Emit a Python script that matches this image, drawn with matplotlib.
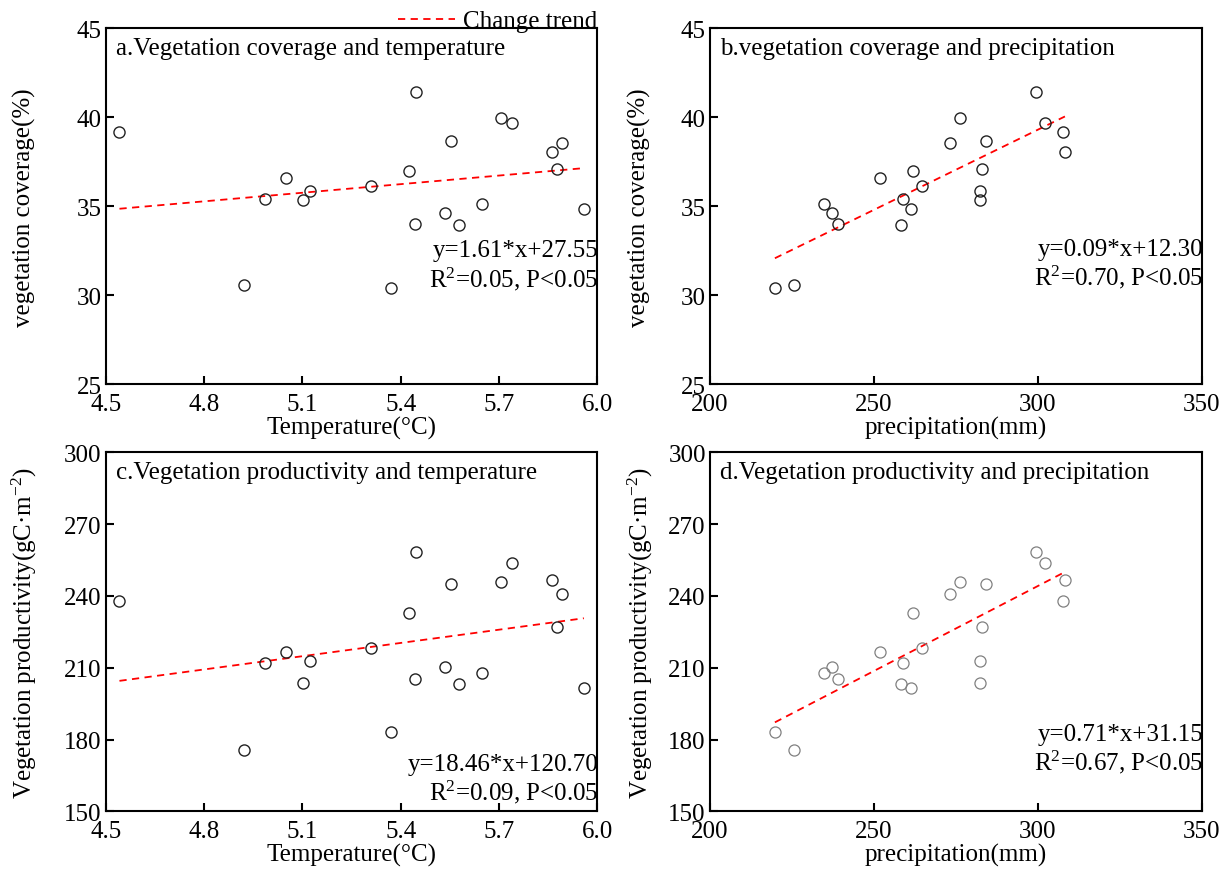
import matplotlib
matplotlib.use("Agg")
import matplotlib.pyplot as plt
import numpy as np
from matplotlib.lines import Line2D

plt.rcParams['font.family'] = ['Liberation Serif', 'DejaVu Serif']
plt.rcParams['mathtext.fontset'] = 'custom'
plt.rcParams['mathtext.rm'] = 'Liberation Serif'
plt.rcParams['mathtext.it'] = 'Liberation Serif:italic'

# ---- data (one entry per year) ----
temperature = [4.542, 5.049, 4.987, 5.124, 5.101, 4.921, 5.309, 5.447, 5.707, 5.741, 5.555,
               5.892, 5.863, 5.425, 5.876, 5.648, 5.536, 5.445, 5.579, 5.959, 5.371]
precipitation = [307.6, 251.9, 259.0, 282.4, 282.4, 225.7, 264.6, 299.5, 276.3, 302.1, 284.1,
                 273.1, 308.3, 261.9, 283.0, 234.9, 237.3, 239.1, 258.4, 261.4, 219.8]
coverage = [39.17, 36.57, 35.43, 35.84, 35.35, 30.56, 36.12, 41.44, 39.98, 39.66, 38.65,
            38.56, 38.07, 36.98, 37.12, 35.11, 34.63, 33.99, 33.95, 34.83, 30.43]
productivity = [238.0, 216.6, 211.9, 213.0, 203.8, 175.8, 218.1, 258.5, 246.0, 253.9, 245.0,
                241.0, 246.7, 232.8, 226.9, 207.7, 210.2, 205.3, 203.4, 201.7, 183.3]

slopes = [1.61, 0.09, 18.46, 0.71]
intercepts = [27.55, 12.30, 120.70, 31.15]
r2_values = ["0.05", "0.70", "0.09", "0.67"]

titles = ["a.Vegetation coverage and temperature",
          "b.vegetation coverage and precipitation",
          "c.Vegetation productivity and temperature",
          "d.Vegetation productivity and precipitation"]
xlabels = ["Temperature(°C)", "precipitation(mm)", "Temperature(°C)", "precipitation(mm)"]
ylabels = ["vegetation coverage(%)", "vegetation coverage(%)",
           "Vegetation productivity(gC·m$^{-2}$)", "Vegetation productivity(gC·m$^{-2}$)"]
temp_ticks = [4.5, 4.8, 5.1, 5.4, 5.7, 6.0]
prec_ticks = [200, 250, 300, 350]
cov_ticks = [25, 30, 35, 40, 45]
prod_ticks = [150, 180, 210, 240, 270, 300]

W, H = 1227, 870
fig = plt.figure(figsize=(W / 100, H / 100), dpi=100)

def frac(l, r, t, b):
    return [l / W, 1 - b / H, (r - l) / W, (b - t) / H]

rects = [frac(105.7, 597.3, 29.3, 385.3), frac(710, 1201.6, 29.3, 385.3),
         frac(105.7, 597.3, 453.4, 812.4), frac(710, 1201.6, 453.4, 812.4)]

xs = [temperature, precipitation, temperature, precipitation]
ys = [coverage, coverage, productivity, productivity]
xt = [temp_ticks, prec_ticks, temp_ticks, prec_ticks]
yt = [cov_ticks, cov_ticks, prod_ticks, prod_ticks]
eq_y = [0.334, 0.338, 0.090, 0.174]
ylab_x = [-0.142, -0.12, -0.135, -0.112]
edgecols = ['#222222', '#222222', '#222222', '#808080']
mews = [1.0, 1.0, 1.0, 0.9]

fs = 18
for i in range(4):
    ax = fig.add_axes(rects[i])
    x = np.array(xs[i]); y = np.array(ys[i])
    ax.plot(x, y, 'o', mfc='none', mec=edgecols[i], ms=8, mew=mews[i], zorder=3)
    xl = np.array([x.min(), x.max()])
    ax.plot(xl, slopes[i] * xl + intercepts[i], color='red', ls=(0, (4, 3)), lw=1.3, zorder=2)
    ax.set_xlim(xt[i][0], xt[i][-1])
    ax.set_ylim(yt[i][0], yt[i][-1])
    ax.set_xticks(xt[i])
    ax.set_yticks(yt[i])
    if i in (0, 2):
        ax.set_xticklabels([f"{v:.1f}" for v in xt[i]])
    ax.tick_params(direction='in', length=6, width=1.5, labelsize=fs,
                   top=False, right=False)
    ax.tick_params(axis='x', pad=6)
    ax.tick_params(axis='y', pad=3)
    for s in ax.spines.values():
        s.set_linewidth(1.5)
    ax.set_xlabel(xlabels[i], fontsize=fs)
    ax.xaxis.set_label_coords(0.5, -0.088)
    ax.set_ylabel(ylabels[i], fontsize=fs)
    ax.yaxis.set_label_coords(ylab_x[i], 0.5)
    ax.text(0.02, 0.975, titles[i], transform=ax.transAxes, fontsize=fs,
            va='top', ha='left')
    ax.text(1.003, eq_y[i], f"y={slopes[i]:.2f}*x+{intercepts[i]:.2f}\nR$^2$={r2_values[i]}, P<0.05",
            transform=ax.transAxes, fontsize=fs, ha='right', va='center', linespacing=1.15)

handle = Line2D([], [], color='red', ls=(0, (4, 3)), lw=1.3)
fig.legend([handle], ["Change trend"], loc='center', bbox_to_anchor=(497.5 / W, 1 - 22 / H),
           frameon=False, fontsize=fs, handlelength=2.3, handletextpad=0.3, borderpad=0)

fig.savefig("out.png", dpi=100)
